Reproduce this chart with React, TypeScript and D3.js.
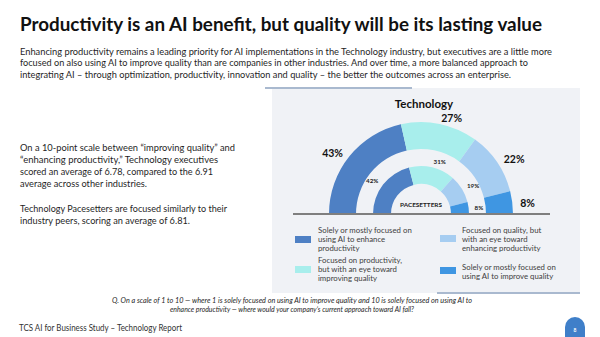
import React from "react";
import * as d3 from "d3";

// Segment categories (legend order) and their shares
const categories = [
  ["Solely or mostly focused on", "using AI to enhance", "productivity"],
  ["Focused on productivity,", "but with an eye toward", "improving quality"],
  ["Focused on quality, but", "with an eye toward", "enhancing productivity"],
  ["Solely or mostly focused on", "using AI to improve quality"],
];
const technologyShares = [43, 27, 22, 8];
const pacesetterShares = [42, 31, 19, 8];
const colors = ["#4e80c4", "#a8eeec", "#a6cdf1", "#3f96e2"];

const title = "Productivity is an AI benefit, but quality will be its lasting value";
const intro = [
  { t: "Enhancing productivity remains a leading priority for AI implementations in the Technology industry, but executives are a little more", w: 532 },
  { t: "focused on also using AI to improve quality than are companies in other industries. And over time, a more balanced approach to", w: 508 },
  { t: "integrating AI \u2013 through optimization, productivity, innovation and quality \u2013 the better the outcomes across an enterprise.", w: 491 },
];
const sideNote = [
  { t: "On a 10-point scale between \u201cimproving quality\u201d and", w: 215, y: 151 },
  { t: "\u201cenhancing productivity,\u201d Technology executives", w: 198, y: 163 },
  { t: "scored an average of 6.78, compared to the 6.91", w: 193, y: 175 },
  { t: "average across other industries.", w: 127, y: 187 },
  { t: "Technology Pacesetters are focused similarly to their", w: 207, y: 212 },
  { t: "industry peers, scoring an average of 6.81.", w: 170, y: 224 },
];
const question = [
  { t: "Q. On a scale of 1 to 10 \u2014 where 1 is solely focused on using AI to improve quality and 10 is solely focused on using AI to", w: 360 },
  { t: "enhance productivity \u2014 where would your company\u2019s current approach toward AI fall?", w: 244 },
];
const footer = "TCS AI for Business Study \u2013 Technology Report";
const pageNumber = "8";

const FONT = "Lato, 'Open Sans', sans-serif";

export default function App() {
  const cx = 421;
  const cy = 214;

  const pie = d3
    .pie<number>()
    .value((d) => d)
    .sort(null)
    .startAngle(-Math.PI / 2)
    .endAngle(Math.PI / 2);

  const outerArc = d3.arc<d3.PieArcDatum<number>>().innerRadius(65).outerRadius(92);
  const innerArc = d3.arc<d3.PieArcDatum<number>>().innerRadius(30).outerRadius(48);

  const outerSlices = pie(technologyShares);
  const innerSlices = pie(pacesetterShares);

  const labelAt = (d: d3.PieArcDatum<number>, r: number) => {
    const a = (d.startAngle + d.endAngle) / 2;
    const x = cx + r * Math.sin(a);
    const y = cy - r * Math.cos(a);
    return { x, y, anchor: x < cx ? "end" : "start" };
  };

  const legendPos = [
    { sx: 295, sy: 236, tx: 318, ty: 233 },
    { sx: 295, sy: 266, tx: 318, ty: 263 },
    { sx: 440, sy: 235, tx: 462, ty: 233 },
    { sx: 440, sy: 267, tx: 462, ty: 270 },
  ];

  return (
    <svg
      width={600}
      height={337}
      viewBox="0 0 600 337"
      style={{ position: "fixed", left: 0, top: 0, background: "#ffffff" }}
      fontFamily={FONT}
    >
      <rect x={0} y={0} width={600} height={337} fill="#ffffff" />

      {/* Heading */}
      <text x={20} y={31} fontSize={19.5} fontWeight={700} fill="#111111" textLength={522} lengthAdjust="spacingAndGlyphs">
        {title}
      </text>
      {intro.map((l, i) => (
        <text key={i} x={20} y={55 + i * 11.3} fontSize={9.8} fill="#1f1f1f" textLength={l.w} lengthAdjust="spacingAndGlyphs">
          {l.t}
        </text>
      ))}

      {/* Side commentary */}
      {sideNote.map((l, i) => (
        <text key={i} x={20} y={l.y} fontSize={9.8} fill="#1f1f1f" textLength={l.w} lengthAdjust="spacingAndGlyphs">
          {l.t}
        </text>
      ))}

      {/* Chart panel */}
      <rect x={272} y={88} width={308} height={205} fill="#f0f2f6" />
      <line x1={265} x2={412} y1={88} y2={88} stroke="#a9b9cf" strokeWidth={2} />
      <line x1={437} x2={580} y1={293} y2={293} stroke="#a9b9cf" strokeWidth={2} />

      <text x={424} y={108} textAnchor="middle" fontSize={11.5} fontWeight={700} fill="#111111">
        Technology
      </text>

      <g transform={`translate(${cx},${cy})`}>
        {outerSlices.map((d, i) => (
          <path key={"o" + i} d={outerArc(d) || ""} fill={colors[i]} />
        ))}
        {innerSlices.map((d, i) => (
          <path key={"i" + i} d={innerArc(d) || ""} fill={colors[i]} />
        ))}
      </g>

      {outerSlices.map((d, i) => {
        const p = labelAt(d, 100);
        return (
          <text key={"ol" + i} x={p.x} y={p.y + 3} textAnchor={p.anchor} dominantBaseline="middle" fontSize={10.5} fontWeight={700} fill="#111111">
            {d.data}%
          </text>
        );
      })}
      {innerSlices.map((d, i) => {
        const p = labelAt(d, 54);
        return (
          <text key={"il" + i} x={p.x} y={p.y + 1} textAnchor={p.anchor} dominantBaseline="middle" fontSize={6.2} fontWeight={700} fill="#222222">
            {d.data}%
          </text>
        );
      })}

      <text x={cx} y={207} textAnchor="middle" fontSize={6.4} fontWeight={700} fill="#222222">
        PACESETTERS
      </text>

      <line x1={293} x2={550} y1={cy} y2={cy} stroke="#7f7f7f" strokeWidth={2} />

      {/* Legend */}
      {categories.map((lines, i) => {
        const p = legendPos[i];
        return (
          <g key={"lg" + i}>
            <rect x={p.sx} y={p.sy} width={16} height={7} fill={colors[i]} />
            {lines.map((t, j) => (
              <text key={j} x={p.tx} y={p.ty + j * 9.2} fontSize={7.8} fill="#404040">
                {t}
              </text>
            ))}
          </g>
        );
      })}

      {/* Survey question */}
      {question.map((l, i) => (
        <text key={"q" + i} x={292} y={303 + i * 9} textAnchor="middle" fontSize={6.6} fontStyle="italic" fill="#262626" textLength={l.w} lengthAdjust="spacingAndGlyphs">
          {l.t}
        </text>
      ))}

      {/* Footer */}
      <text x={19} y={331} fontSize={9} fill="#333333" textLength={163} lengthAdjust="spacingAndGlyphs">
        {footer}
      </text>
      <path d="M565,337 L565,327 A10,10 0 0 1 585,327 L585,337 Z" fill="#3f7fc9" />
      <text x={575} y={331} textAnchor="middle" dominantBaseline="middle" fontSize={5} fontWeight={700} fill="#ffffff">
        {pageNumber}
      </text>
    </svg>
  );
}
